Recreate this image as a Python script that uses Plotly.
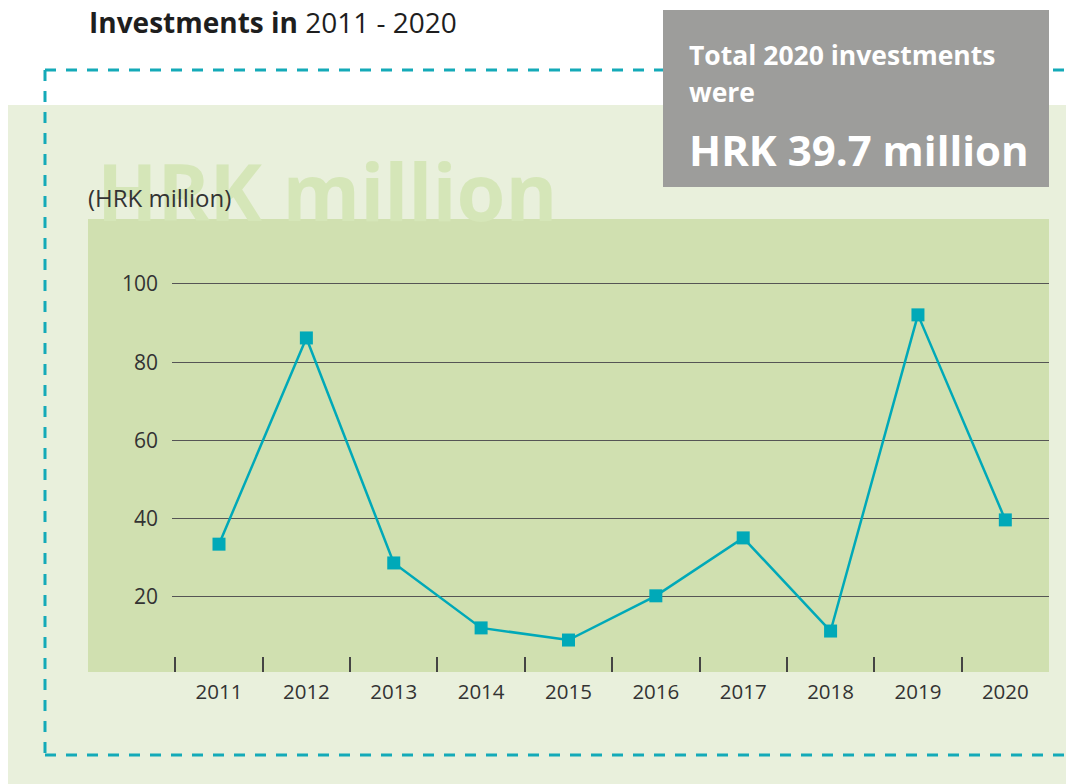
import plotly.graph_objects as go

# Data
years = ["2011", "2012", "2013", "2014", "2015", "2016", "2017", "2018", "2019", "2020"]
investments = [33.5, 86.2, 28.7, 12.1, 9.0, 20.3, 35.1, 11.3, 92.1, 39.7]
y_ticks = [20, 40, 60, 80, 100]

# the page has an 8px body margin, so the figure is drawn 8px in
OFF = 8
W, H = 1074 - OFF, 784 - OFF
TEAL = "#00a9b8"
TXT = "#333333"
FONT = "Open Sans"


def px(x):
    return (x - OFF) / W


def py(y):
    return 1 - (y - OFF) / H


fig = go.Figure()

fig.add_trace(go.Scatter(
    x=years, y=investments, mode="lines+markers",
    line=dict(color=TEAL, width=2.5),
    marker=dict(symbol="square", size=13, color=TEAL),
    showlegend=False, hoverinfo="x+y",
))

dash = dict(color="#14aab8", width=3, dash="11px,10px")
shapes = [
    # light green panel
    dict(type="rect", xref="paper", yref="paper", x0=px(8), x1=px(1074), y0=py(784), y1=py(105),
         fillcolor="#e9f0dc", line_width=0, layer="below"),
    # plot background
    dict(type="rect", xref="paper", yref="paper", x0=px(88), x1=px(1049), y0=py(672), y1=py(219),
         fillcolor="#d0e0b0", line_width=0, layer="below"),
    # dashed frame
    dict(type="line", xref="paper", yref="paper", x0=px(45), x1=px(1068), y0=py(70), y1=py(70),
         line=dash, layer="below"),
    dict(type="line", xref="paper", yref="paper", x0=px(45), x1=px(1068), y0=py(755), y1=py(755),
         line=dash, layer="below"),
    dict(type="line", xref="paper", yref="paper", x0=px(45), x1=px(45), y0=py(70), y1=py(755),
         line=dash, layer="below"),
    # grey callout box
    dict(type="rect", xref="paper", yref="paper", x0=px(663), x1=px(1049), y0=py(187), y1=py(10),
         fillcolor="#9d9d9b", line_width=0, layer="above"),
]

annotations = [
    dict(text="<b>Investments in</b> 2011 - 2020", x=px(87), y=py(22), xanchor="left", yanchor="middle",
         font=dict(family=FONT, size=28, color="#1e1e1e")),
    dict(text="<b>HRK million</b>", x=px(95), y=py(190), xanchor="left", yanchor="middle",
         font=dict(family=FONT, size=79, color="#d5e6b8")),
    dict(text="(HRK million)", x=px(86), y=py(197), xanchor="left", yanchor="middle",
         font=dict(family=FONT, size=24, color=TXT)),
    dict(text="<b>Total 2020 investments</b>", x=px(687), y=py(55), xanchor="left", yanchor="middle",
         font=dict(family=FONT, size=26.5, color="white")),
    dict(text="<b>were</b>", x=px(687), y=py(92), xanchor="left", yanchor="middle",
         font=dict(family=FONT, size=26.5, color="white")),
    dict(text="<b>HRK 39.7 million</b>", x=px(687), y=py(149), xanchor="left", yanchor="middle",
         font=dict(family=FONT, size=42, color="white")),
]
for a in annotations:
    a.update(xref="paper", yref="paper", showarrow=False)

fig.update_layout(
    width=W, height=H, autosize=False,
    margin=dict(l=0, r=0, t=0, b=0),
    paper_bgcolor="white", plot_bgcolor="rgba(0,0,0,0)",
    font=dict(family=FONT, color=TXT),
    shapes=shapes, annotations=annotations,
    xaxis=dict(
        domain=[px(172), px(1049)], type="category", range=[-0.538, 9.5],
        tickson="boundaries", ticks="inside", ticklen=15, tickwidth=1.5, tickcolor="#444",
        showgrid=False, showline=False, zeroline=False,
        tickfont=dict(size=20.5, color=TXT), ticklabelstandoff=5,
    ),
    yaxis=dict(
        domain=[py(672), py(219)], range=[0.83, 116.6],
        tickvals=y_ticks, showgrid=True, gridcolor="#555555", gridwidth=1,
        zeroline=False, showline=False, ticks="",
        tickfont=dict(size=21, color=TXT), ticklabelstandoff=13,
    ),
)

fig.write_html("out.html")
